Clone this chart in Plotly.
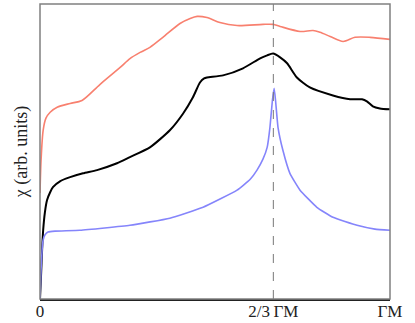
import plotly.graph_objects as go

# susceptibility curves along Gamma-M, x in units of |GM|
red_x = [0, 0.003, 0.009, 0.017, 0.029, 0.049, 0.086, 0.12, 0.171, 0.229, 0.257, 0.286,
         0.314, 0.351, 0.4, 0.429, 0.449, 0.477, 0.514, 0.563, 0.637, 0.666, 0.686, 0.743,
         0.78, 0.8, 0.829, 0.866, 0.9, 0.943, 1.0]
red_y = [0.359, 0.47, 0.572, 0.613, 0.633, 0.65, 0.663, 0.673, 0.727, 0.785, 0.815, 0.836,
         0.853, 0.887, 0.934, 0.951, 0.958, 0.954, 0.937, 0.927, 0.931, 0.931, 0.924, 0.907,
         0.91, 0.904, 0.89, 0.873, 0.887, 0.887, 0.88]

black_x = [0, 0.003, 0.006, 0.009, 0.014, 0.02, 0.029, 0.037, 0.057, 0.086, 0.123, 0.163,
           0.22, 0.257, 0.314, 0.371, 0.409, 0.437, 0.457, 0.469, 0.477, 0.523, 0.58, 0.629,
           0.649, 0.666, 0.686, 0.706, 0.734, 0.771, 0.837, 0.886, 0.92, 0.934, 0.951, 0.971, 1.0]
black_y = [0, 0.081, 0.166, 0.233, 0.294, 0.335, 0.362, 0.379, 0.399, 0.413, 0.426, 0.437,
           0.46, 0.481, 0.514, 0.572, 0.629, 0.684, 0.734, 0.748, 0.751, 0.758, 0.782, 0.816,
           0.826, 0.832, 0.819, 0.799, 0.751, 0.717, 0.69, 0.677, 0.677, 0.67, 0.653, 0.646, 0.643]

blue_x = [0, 0.003, 0.006, 0.009, 0.014, 0.023, 0.043, 0.114, 0.257, 0.371, 0.466, 0.563,
          0.6, 0.62, 0.637, 0.649, 0.657, 0.664, 0.669, 0.673, 0.68, 0.694, 0.714, 0.743,
          0.791, 0.837, 0.906, 0.957, 1.0]
blue_y = [0, 0.098, 0.166, 0.2, 0.217, 0.227, 0.23, 0.233, 0.25, 0.274, 0.311, 0.369,
          0.405, 0.437, 0.474, 0.514, 0.582, 0.673, 0.714, 0.673, 0.582, 0.504, 0.426, 0.369,
          0.311, 0.277, 0.25, 0.237, 0.233]

tick_vals = [0, 2 / 3, 1]
tick_text = ["0", "2/3\u2009ΓM", "ΓM"]

font = "Liberation Serif"

fig = go.Figure()
fig.add_trace(go.Scatter(x=red_x, y=red_y, mode="lines",
                         line=dict(color="#f8806f", width=1.6, shape="spline", smoothing=0.8)))
fig.add_trace(go.Scatter(x=black_x, y=black_y, mode="lines",
                         line=dict(color="black", width=2, shape="spline", smoothing=0.6)))
fig.add_trace(go.Scatter(x=blue_x, y=blue_y, mode="lines",
                         line=dict(color="#8585fb", width=1.6, shape="spline", smoothing=0.4)))

fig.add_vline(x=2 / 3, line=dict(color="#777777", width=1, dash="dash"))

# grey box, bottom axis drawn black on top
fig.add_shape(type="rect", xref="paper", yref="paper", x0=0, x1=1, y0=0, y1=1,
              line=dict(color="#808080", width=1.5), layer="above")

fig.update_layout(
    width=415, height=323,
    margin=dict(l=40, r=25, t=4, b=24, autoexpand=False),
    plot_bgcolor="white", paper_bgcolor="white",
    showlegend=False,
    font=dict(family=font, size=17, color="#222"),
    xaxis=dict(range=[0, 1], tickvals=tick_vals, ticktext=tick_text, showgrid=False,
               zeroline=False, showline=True, linecolor="#222", linewidth=1.5,
               ticks="", ticklen=0, ticklabelstandoff=-4),
    yaxis=dict(range=[0, 1], showticklabels=False, showgrid=False, zeroline=False,
               title=dict(text="χ (arb. units)", standoff=6, font=dict(size=18))),
)

fig.write_html("out.html", config={"displayModeBar": False},
               post_script="document.body.style.margin='0';")
